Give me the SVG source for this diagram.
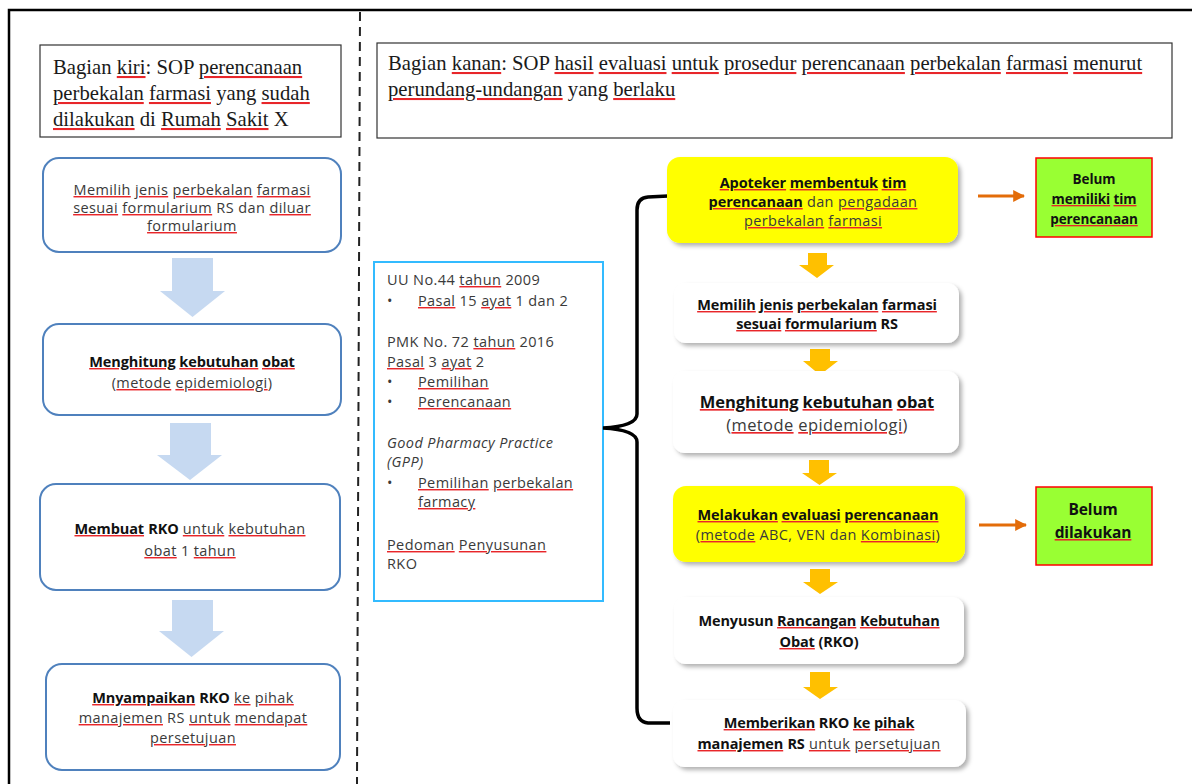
<svg xmlns="http://www.w3.org/2000/svg" width="1192" height="784" viewBox="0 0 1192 784">
<style>
.serif{font-family:"Liberation Serif","Times New Roman",serif;fill:#1a1a1a;font-size:20.7px}
.g{font-family:"Open Sans","DejaVu Sans",sans-serif;fill:#3a3a3a;font-size:14.5px;letter-spacing:0.4px}
.b{font-weight:bold;fill:#111;letter-spacing:-0.1px}
.i{font-style:italic}
.sq{text-decoration:underline;fill:#e8262a}
.sq>.w{fill:#3a3a3a}
.serif .sq>.w{fill:#1a1a1a}
.b .sq>.w,.sq.b>.w{fill:#111}
.lbox{fill:#fff;stroke:#4f81bd;stroke-width:2}
.wbox{fill:#fff}
.ybox{fill:#ffff00}
.gbox{fill:#99ff33;stroke:#ff0000;stroke-width:1.5}
.larr{fill:#c6d9f1}
.garr{fill:#ffc000}
</style>
<defs>
<filter id="sh" x="-10%" y="-20%" width="130%" height="150%">
<feDropShadow dx="3" dy="3" stdDeviation="2" flood-color="#000" flood-opacity="0.3"/>
</filter>
<marker id="oa" viewBox="0 0 10 10" refX="9" refY="5" markerWidth="4" markerHeight="4" orient="auto">
<path d="M0,0 L10,5 L0,10 z" fill="#e36c09"/>
</marker>
</defs>
<rect width="1192" height="784" fill="#fff"/>
<g id="frame">
<path d="M9,784 L9,10 L1192,10" fill="none" stroke="#000" stroke-width="2.5"/>
<line x1="360" y1="12" x2="357" y2="784" stroke="#222" stroke-width="2" stroke-dasharray="9,6"/>
</g>

<g id="left-title">
<rect x="40" y="45" width="301" height="92" fill="#fff" stroke="#333" stroke-width="1.2"/>
<text class="serif" x="53" y="74">Bagian <tspan class="sq"><tspan class="w">kiri</tspan></tspan>: SOP <tspan class="sq"><tspan class="w">perencanaan</tspan></tspan></text>
<text class="serif" x="53" y="100"><tspan class="sq"><tspan class="w">perbekalan</tspan></tspan> <tspan class="sq"><tspan class="w">farmasi</tspan></tspan> yang <tspan class="sq"><tspan class="w">sudah</tspan></tspan></text>
<text class="serif" x="53" y="126"><tspan class="sq"><tspan class="w">dilakukan</tspan></tspan> di <tspan class="sq"><tspan class="w">Rumah</tspan></tspan> <tspan class="sq"><tspan class="w">Sakit</tspan></tspan> X</text>
</g>

<g id="right-title">
<rect x="377" y="43" width="795" height="95" fill="#fff" stroke="#333" stroke-width="1.2"/>
<text class="serif" x="388" y="70">Bagian <tspan class="sq"><tspan class="w">kanan</tspan></tspan>: SOP <tspan class="sq"><tspan class="w">hasil</tspan></tspan> <tspan class="sq"><tspan class="w">evaluasi</tspan></tspan> <tspan class="sq"><tspan class="w">untuk</tspan></tspan> <tspan class="sq"><tspan class="w">prosedur</tspan></tspan> <tspan class="sq"><tspan class="w">perencanaan</tspan></tspan> <tspan class="sq"><tspan class="w">perbekalan</tspan></tspan> <tspan class="sq"><tspan class="w">farmasi</tspan></tspan> <tspan class="sq"><tspan class="w">menurut</tspan></tspan></text>
<text class="serif" x="388" y="96"><tspan class="sq"><tspan class="w">perundang-undangan</tspan></tspan> yang <tspan class="sq"><tspan class="w">berlaku</tspan></tspan></text>
</g>

<g id="L1">
<rect class="lbox" x="43" y="158" width="298" height="94" rx="16"/>
<text class="g" text-anchor="middle"><tspan x="192" y="195"><tspan class="sq"><tspan class="w">Memilih</tspan></tspan> <tspan class="sq"><tspan class="w">jenis</tspan></tspan> <tspan class="sq"><tspan class="w">perbekalan</tspan></tspan> <tspan class="sq"><tspan class="w">farmasi</tspan></tspan></tspan><tspan x="192" y="213"><tspan class="sq"><tspan class="w">sesuai</tspan></tspan> <tspan class="sq"><tspan class="w">formularium</tspan></tspan> RS dan <tspan class="sq"><tspan class="w">diluar</tspan></tspan></tspan><tspan x="192" y="231"><tspan class="sq"><tspan class="w">formularium</tspan></tspan></tspan></text>
</g>
<g id="L2">
<rect class="lbox" x="43" y="324" width="298" height="91" rx="16"/>
<text class="g" text-anchor="middle"><tspan x="192" y="367" class="b"><tspan class="sq"><tspan class="w">Menghitung</tspan></tspan> <tspan class="sq"><tspan class="w">kebutuhan</tspan></tspan> <tspan class="sq"><tspan class="w">obat</tspan></tspan></tspan><tspan x="192" y="388">(<tspan class="sq"><tspan class="w">metode</tspan></tspan> <tspan class="sq"><tspan class="w">epidemiologi</tspan></tspan>)</tspan></text>
</g>
<g id="L3">
<rect class="lbox" x="40" y="484" width="300" height="106" rx="16"/>
<text class="g" text-anchor="middle"><tspan x="190" y="534"><tspan class="sq b"><tspan class="w">Membuat</tspan></tspan> <tspan class="b">RKO</tspan> <tspan class="sq"><tspan class="w">untuk</tspan></tspan> <tspan class="sq"><tspan class="w">kebutuhan</tspan></tspan></tspan><tspan x="190" y="556"><tspan class="sq"><tspan class="w">obat</tspan></tspan> 1 <tspan class="sq"><tspan class="w">tahun</tspan></tspan></tspan></text>
</g>
<g id="L4">
<rect class="lbox" x="46" y="664" width="294" height="106" rx="16"/>
<text class="g" text-anchor="middle"><tspan x="193" y="703"><tspan class="sq b"><tspan class="w">Mnyampaikan</tspan></tspan> <tspan class="b">RKO</tspan> <tspan class="sq"><tspan class="w">ke</tspan></tspan> <tspan class="sq"><tspan class="w">pihak</tspan></tspan></tspan><tspan x="193" y="723"><tspan class="sq"><tspan class="w">manajemen</tspan></tspan> RS <tspan class="sq"><tspan class="w">untuk</tspan></tspan> <tspan class="sq"><tspan class="w">mendapat</tspan></tspan></tspan><tspan x="193" y="743"><tspan class="sq"><tspan class="w">persetujuan</tspan></tspan></tspan></text>
</g>
<g id="left-arrows">
<path class="larr" d="M172,258 H213 V291 H225 L192.5,317 L160,291 H172 Z"/>
<path class="larr" d="M170,423 H211 V455 H222 L190,480 L157,455 H170 Z"/>
<path class="larr" d="M172,600 H213 V631 H224 L191.5,657 L159,631 H172 Z"/>
</g>

<g id="info">
<rect x="374" y="262" width="229" height="339" fill="#fff" stroke="#33bbff" stroke-width="2"/>
<g class="g">
<text x="387" y="285">UU No.44 <tspan class="sq"><tspan class="w">tahun</tspan></tspan> 2009</text>
<text x="387" y="306">•</text><text x="418" y="306"><tspan class="sq"><tspan class="w">Pasal</tspan></tspan> 15 <tspan class="sq"><tspan class="w">ayat</tspan></tspan> 1 dan 2</text>
<text x="387" y="347">PMK No. 72 <tspan class="sq"><tspan class="w">tahun</tspan></tspan> 2016</text>
<text x="387" y="367"><tspan class="sq"><tspan class="w">Pasal</tspan></tspan> 3 <tspan class="sq"><tspan class="w">ayat</tspan></tspan> 2</text>
<text x="387" y="387">•</text><text x="418" y="387"><tspan class="sq"><tspan class="w">Pemilihan</tspan></tspan></text>
<text x="387" y="407">•</text><text x="418" y="407"><tspan class="sq"><tspan class="w">Perencanaan</tspan></tspan></text>
<text x="387" y="448" class="i">Good Pharmacy Practice</text>
<text x="387" y="467" class="i">(GPP)</text>
<text x="387" y="488">•</text><text x="418" y="488"><tspan class="sq"><tspan class="w">Pemilihan</tspan></tspan> <tspan class="sq"><tspan class="w">perbekalan</tspan></tspan></text>
<text x="418" y="507"><tspan class="sq"><tspan class="w">farmacy</tspan></tspan></text>
<text x="387" y="550"><tspan class="sq"><tspan class="w">Pedoman</tspan></tspan> <tspan class="sq"><tspan class="w">Penyusunan</tspan></tspan></text>
<text x="387" y="569">RKO</text>
</g>
</g>

<g id="connectors" fill="none">
<path d="M668,196 L648,197 Q637,198 637,210 L637,414 Q637,426 603,428 Q637,430 637,442 L637,708 Q637,722 648,723 L670,723" stroke="#000" stroke-width="3.5"/>
<line x1="978" y1="196" x2="1024" y2="196" stroke="#e36c09" stroke-width="3" marker-end="url(#oa)"/>
<line x1="979" y1="525" x2="1026" y2="525" stroke="#e36c09" stroke-width="3" marker-end="url(#oa)"/>
<path class="garr" stroke="none" d="M808,253 H827 V265 H834 L817,278 L799,265 H808 Z"/>
<path class="garr" stroke="none" d="M810,349 H830 V361 H838 L820,375 L803,361 H810 Z"/>
<path class="garr" stroke="none" d="M809,460 H829 V473 H837 L819.5,485 L802,473 H809 Z"/>
<path class="garr" stroke="none" d="M810,569 H830 V582 H838 L820,594 L803,582 H810 Z"/>
<path class="garr" stroke="none" d="M810,672 H830 V687 H838 L820,699 L803,687 H810 Z"/>
</g>

<g id="R1">
<rect class="ybox" x="667" y="157" width="291" height="86" rx="13" filter="url(#sh)"/>
<text class="g" text-anchor="middle"><tspan x="813" y="188" class="b"><tspan class="sq"><tspan class="w">Apoteker</tspan></tspan> <tspan class="sq"><tspan class="w">membentuk</tspan></tspan> <tspan class="sq"><tspan class="w">tim</tspan></tspan></tspan><tspan x="813" y="207"><tspan class="sq b"><tspan class="w">perencanaan</tspan></tspan> dan <tspan class="sq"><tspan class="w">pengadaan</tspan></tspan></tspan><tspan x="813" y="226"><tspan class="sq"><tspan class="w">perbekalan</tspan></tspan> <tspan class="sq"><tspan class="w">farmasi</tspan></tspan></tspan></text>
</g>
<g id="G1">
<rect class="gbox" x="1036" y="158" width="116" height="79"/>
<text class="g b" style="font-size:13.5px" text-anchor="middle"><tspan x="1094" y="184">Belum</tspan><tspan x="1094" y="204"><tspan class="sq"><tspan class="w">memiliki</tspan></tspan> <tspan class="sq"><tspan class="w">tim</tspan></tspan></tspan><tspan x="1094" y="224"><tspan class="sq"><tspan class="w">perencanaan</tspan></tspan></tspan></text>
</g>
<g id="R2">
<rect class="wbox" x="674" y="283" width="285" height="60" rx="12" filter="url(#sh)"/>
<text class="g b" text-anchor="middle"><tspan x="817" y="310"><tspan class="sq"><tspan class="w">Memilih</tspan></tspan> <tspan class="sq"><tspan class="w">jenis</tspan></tspan> <tspan class="sq"><tspan class="w">perbekalan</tspan></tspan> <tspan class="sq"><tspan class="w">farmasi</tspan></tspan></tspan><tspan x="817" y="329"><tspan class="sq"><tspan class="w">sesuai</tspan></tspan> <tspan class="sq"><tspan class="w">formularium</tspan></tspan> RS</tspan></text>
</g>
<g id="R3">
<rect class="wbox" x="673" y="371" width="286" height="82" rx="12" filter="url(#sh)"/>
<text class="g" style="font-size:16.5px" text-anchor="middle"><tspan x="817" y="408" class="b"><tspan class="sq"><tspan class="w">Menghitung</tspan></tspan> <tspan class="sq"><tspan class="w">kebutuhan</tspan></tspan> <tspan class="sq"><tspan class="w">obat</tspan></tspan></tspan><tspan x="817" y="431">(<tspan class="sq"><tspan class="w">metode</tspan></tspan> <tspan class="sq"><tspan class="w">epidemiologi</tspan></tspan>)</tspan></text>
</g>
<g id="R4">
<rect class="ybox" x="673" y="486" width="292" height="76" rx="13" filter="url(#sh)"/>
<text class="g" text-anchor="middle"><tspan x="818" y="520" class="b"><tspan class="sq"><tspan class="w">Melakukan</tspan></tspan> <tspan class="sq"><tspan class="w">evaluasi</tspan></tspan> <tspan class="sq"><tspan class="w">perencanaan</tspan></tspan></tspan><tspan x="818" y="540">(<tspan class="sq"><tspan class="w">metode</tspan></tspan> ABC, VEN dan <tspan class="sq"><tspan class="w">Kombinasi</tspan></tspan>)</tspan></text>
</g>
<g id="G2">
<rect class="gbox" x="1036" y="487" width="116" height="78"/>
<text class="g b" style="font-size:15.5px" text-anchor="middle"><tspan x="1093" y="515">Belum</tspan><tspan x="1093" y="538"><tspan class="sq"><tspan class="w">dilakukan</tspan></tspan></tspan></text>
</g>
<g id="R5">
<rect class="wbox" x="674" y="597" width="290" height="67" rx="12" filter="url(#sh)"/>
<text class="g b" text-anchor="middle"><tspan x="819" y="626">Menyusun <tspan class="sq"><tspan class="w">Rancangan</tspan></tspan> <tspan class="sq"><tspan class="w">Kebutuhan</tspan></tspan></tspan><tspan x="819" y="647"><tspan class="sq"><tspan class="w">Obat</tspan></tspan> (RKO)</tspan></text>
</g>
<g id="R6">
<rect class="wbox" x="673" y="700" width="293" height="67" rx="12" filter="url(#sh)"/>
<text class="g" text-anchor="middle"><tspan x="819" y="728" class="b"><tspan class="sq"><tspan class="w">Memberikan</tspan></tspan> RKO <tspan class="sq"><tspan class="w">ke</tspan></tspan> <tspan class="sq"><tspan class="w">pihak</tspan></tspan></tspan><tspan x="819" y="749"><tspan class="sq b"><tspan class="w">manajemen</tspan></tspan> <tspan class="b">RS</tspan> <tspan class="sq"><tspan class="w">untuk</tspan></tspan> <tspan class="sq"><tspan class="w">persetujuan</tspan></tspan></tspan></text>
</g>
</svg>
